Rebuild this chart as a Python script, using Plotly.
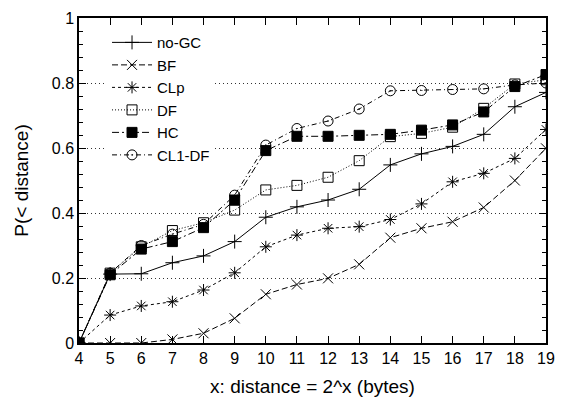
import plotly.graph_objects as go

x_vals = list(range(4, 20))
series_names = ["no-GC", "BF", "CLp", "DF", "HC", "CL1-DF"]
no_gc = [0, 0.212, 0.213, 0.247, 0.268, 0.312, 0.387, 0.419, 0.44, 0.473, 0.548, 0.582, 0.605, 0.642, 0.727, 0.771]
bf = [0, 0, 0, 0.011, 0.03, 0.076, 0.15, 0.18, 0.199, 0.242, 0.324, 0.353, 0.373, 0.417, 0.5, 0.599]
clp = [0, 0.086, 0.114, 0.127, 0.163, 0.216, 0.296, 0.332, 0.353, 0.358, 0.38, 0.428, 0.496, 0.522, 0.568, 0.657]
df = [0, 0.215, 0.296, 0.346, 0.37, 0.409, 0.471, 0.485, 0.51, 0.561, 0.635, 0.645, 0.664, 0.722, 0.797, 0.81]
hc = [0, 0.21, 0.289, 0.312, 0.355, 0.44, 0.592, 0.636, 0.636, 0.639, 0.642, 0.655, 0.671, 0.711, 0.789, 0.826]
cl1_df = [0, 0.215, 0.3, 0.335, 0.365, 0.455, 0.609, 0.66, 0.683, 0.72, 0.776, 0.777, 0.78, 0.782, 0.794, 0.80]
y_ticks = [0, 0.2, 0.4, 0.6, 0.8, 1]
y_tick_labels = ["0", "0.2", "0.4", "0.6", "0.8", "1"]

styles = [
    dict(dash="solid", symbol="cross-thin-open", size=10),
    dict(dash="6px,3px", symbol="x-thin-open", size=10),
    dict(dash="3px,3px", symbol="asterisk-open", size=10),
    dict(dash="1px,2px", symbol="square-open", size=10),
    dict(dash="7px,3px,2px,3px", symbol="square", size=10),
    dict(dash="5px,3px,1px,3px", symbol="circle-open-dot", size=10),
]
all_vals = [no_gc, bf, clp, df, hc, cl1_df]

fig = go.Figure()
for name, vals, st in zip(series_names, all_vals, styles):
    fig.add_trace(go.Scatter(
        x=x_vals, y=vals, name=name, mode="lines+markers",
        line=dict(color="black", width=1, dash=st["dash"]),
        marker=dict(color="black", symbol=st["symbol"], size=st["size"],
                    line=dict(color="black", width=1)),
    ))

font_family = "Liberation Sans, Arial, sans-serif"
fig.update_layout(
    width=558, height=393,
    margin=dict(l=71, r=20, t=10, b=58),
    paper_bgcolor="white", plot_bgcolor="white",
    font=dict(family=font_family, size=16, color="black"),
    showlegend=True,
    legend=dict(x=0.06, y=0.975, xanchor="left", yanchor="top",
                bgcolor="white", borderwidth=0, itemwidth=40,
                font=dict(size=15), tracegroupgap=0),
)
fig.update_xaxes(
    range=[4, 19], tickmode="array", tickvals=x_vals,
    ticks="inside", ticklen=7, tickcolor="black",
    showline=True, linecolor="black", linewidth=1.5, mirror="allticks",
    showgrid=False, zeroline=False, automargin=False,
    title=dict(text="x: distance = 2^x (bytes)", standoff=14),
)
fig.update_yaxes(
    range=[0, 1], tickmode="array", tickvals=y_ticks, ticktext=y_tick_labels,
    ticks="inside", ticklen=7, tickcolor="black",
    minor=dict(dtick=0.04, ticks="inside", ticklen=4, tickcolor="black", showgrid=False),
    showline=True, linecolor="black", linewidth=1.5, mirror="allticks",
    showgrid=True, gridcolor="#333333", griddash="1px,3px", gridwidth=1,
    zeroline=False, automargin=False,
    title=dict(text="P(< distance)", standoff=18),
)
fig.write_html("out.html")
